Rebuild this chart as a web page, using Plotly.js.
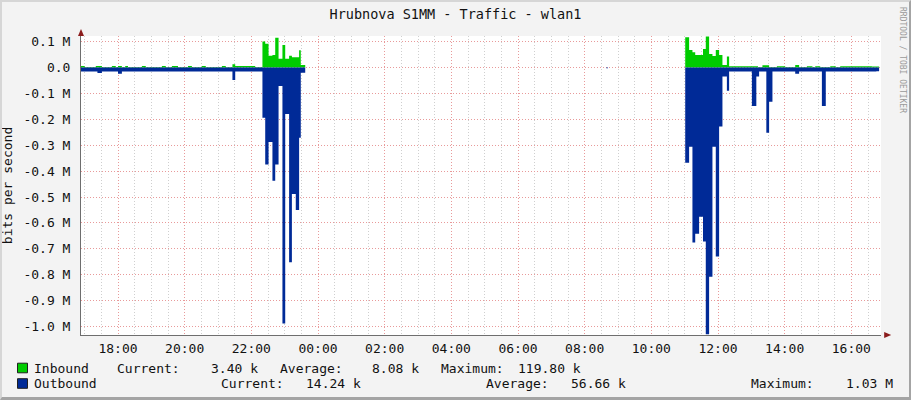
<!DOCTYPE html>
<html>
<head>
<meta charset="utf-8">
<script src="https://cdn.plot.ly/plotly-3.0.1.min.js"></script>
<style>
  html, body { margin: 0; padding: 0; background: #f3f3f3; }
  #wrap { position: relative; width: 911px; height: 400px; overflow: hidden; }
  #chart { width: 911px; height: 400px; }
  #frame { position: absolute; left: 0; top: 0; width: 907px; height: 395px;
           border-top: 2px solid #d6d6d6; border-left: 2px solid #d6d6d6;
           border-right: 2px solid #a4a4a4; border-bottom: 3px solid #a4a4a4;
           pointer-events: none; }
</style>
</head>
<body>
<div id="wrap"><div id="chart"></div><div id="frame"></div></div>
<script>
// ---- data ----
const chartTitle = 'Hrubnova S1MM - Traffic - wlan1';
const yTitle = 'bits per second';

// Inbound (plotted above zero), step values starting at each time; null = no data
const inTimes = ['16:53','17:00','17:20','17:31','17:49','17:56','18:00','18:07','18:13','18:18',
  '18:43','18:50','19:19','19:26','19:37','19:48','20:06','20:13','20:31','20:38',
  '21:07','21:14','21:26','21:31','22:07',
  '22:20','22:25','22:31','22:38','22:43','22:49','22:56','23:01','23:08','23:13','23:20','23:26','23:29','23:37','23:38',
  '11:01','11:08','11:14','11:19','11:26','11:33','11:38','11:44','11:50','11:56','12:02','12:08','12:16','12:20',
  '13:12','13:20','13:32','13:46','14:01','14:19','14:26','14:40','14:50','14:55','15:04','15:22','15:32','15:40',
  '16:37','16:50'];
const inValues = [6000,2000,6000,2000,6000,2000,6000,2000,6000,2000,
  6000,2000,6000,2000,6000,2000,6000,2000,6000,2000,
  6000,2000,13000,6000,2000,
  100000,92000,45000,48000,115000,34000,87000,34000,45000,40000,40000,67000,10000,10000,null,
  117000,68000,59000,48000,48000,71000,119800,52000,44000,68000,48000,10000,42000,5000,
  2000,9000,2000,5000,2000,10000,2000,5000,2000,5000,2000,5000,2000,5000,
  3400,3400];

// Outbound (plotted below zero)
const outTimes = ['16:53','17:23','17:31','18:00','18:07','21:26','21:31',
  '22:20','22:25','22:31','22:38','22:43','22:49','22:56','23:01','23:08','23:13','23:20','23:26','23:29','23:37','23:38',
  '08:39','08:42','08:43',
  '11:01','11:08','11:14','11:19','11:26','11:33','11:38','11:44','11:50','11:56','12:02','12:08','12:16','12:20',
  '13:01','13:09','13:14','13:27','13:32','13:38','14:19','14:26','15:07','15:14','16:45','16:50'];
const outValues = [-15000,-21000,-15000,-24000,-15000,-48000,-15000,
  -194000,-375000,-288000,-437000,-375000,-71000,-988000,-180000,-752000,-488000,-550000,-271000,-20000,-20000,null,
  -3000,-3000,null,
  -368000,-306000,-676000,-642000,-576000,-672000,-1030000,-808000,-306000,-730000,-228000,-35000,-90000,-15000,
  -149000,-35000,-15000,-252000,-132000,-15000,-24000,-15000,-149000,-15000,-14240,-14240];

const yTickVals = [100000,0,-100000,-200000,-300000,-400000,-500000,-600000,-700000,-800000,-900000,-1000000];
const yTickText = ['0.1 M','0.0','-0.1 M','-0.2 M','-0.3 M','-0.4 M','-0.5 M','-0.6 M','-0.7 M','-0.8 M','-0.9 M','-1.0 M'];

const legendRows = [
  {name:'Inbound',  color:'#00CC00', cur:'3.40 k',  avg:'8.08 k',  max:'119.80 k'},
  {name:'Outbound', color:'#002A97', cur:'14.24 k', avg:'56.66 k', max:'1.03 M'}
];

// ---- build ----
const DAY1 = '2024-05-14', DAY2 = '2024-05-15';
const toDate = hm => (hm >= '16:53' ? DAY1 : DAY2) + ' ' + hm;
const xStart = DAY1 + ' 16:53:24', xEnd = DAY2 + ' 16:53:24';

const MONO = 'DejaVu Sans Mono';
const L = 81, R = 881, T = 36, B = 335, W = 911, H = 400;
const px = x => (x - L) / (R - L);
const py = y => (B - y) / (B - T);

// split a series at null values so each data run is filled on its own
function runs(times, values) {
  const out = []; let cur = null;
  times.forEach((t, i) => {
    const v = values[i];
    if (v === null) { cur = null; return; }
    if (!cur) { cur = {x: [], y: []}; out.push(cur); }
    cur.x.push(toDate(t)); cur.y.push(v);
  });
  return out;
}

const traces = [];
[[inTimes, inValues, 'Inbound', '#00CC00'], [outTimes, outValues, 'Outbound', '#002A97']].forEach(([tt, vv, name, color]) => {
  runs(tt, vv).forEach((seg, k) => {
    traces.push({x: seg.x, y: seg.y, type:'scatter', mode:'lines', name: name, legendgroup: name, showlegend: k === 0,
      line:{shape:'hv', color: color, width:0}, fill:'tozeroy', fillcolor: color});
  });
});

const annotations = [
  {text:'RRDTOOL / TOBI OETIKER', xref:'paper', yref:'paper', x:px(902), y:py(60), textangle:90,
   showarrow:false, font:{family:MONO, size:8, color:'#9a9a9a'}, xanchor:'center', yanchor:'middle'}
];
const shapes = [
  {type:'path', xref:'paper', yref:'paper', xsizemode:'pixel', ysizemode:'pixel', xanchor:1.004, yanchor:0,
   path:'M0,-3 L7,0 L0,3 Z', fillcolor:'#8b1c1c', line:{width:0}},
  {type:'path', xref:'paper', yref:'paper', xsizemode:'pixel', ysizemode:'pixel', xanchor:0, yanchor:1,
   path:'M-3,0 L3,0 L0,7 Z', fillcolor:'#8b1c1c', line:{width:0}}
];
const rowY = [368, 383.5];
const colsX = [
  [{k:'Current:', x:116, a:'left'}, {k:'cur', x:259, a:'right'}, {k:'Average:', x:279, a:'left'}, {k:'avg', x:420, a:'right'}, {k:'Maximum:', x:440, a:'left'}, {k:'max', x:582, a:'right'}],
  [{k:'Current:', x:220, a:'left'}, {k:'cur', x:362, a:'right'}, {k:'Average:', x:485, a:'left'}, {k:'avg', x:627, a:'right'}, {k:'Maximum:', x:750, a:'left'}, {k:'max', x:894, a:'right'}]
];
legendRows.forEach((r, i) => {
  const y = rowY[i];
  shapes.push({type:'rect', xref:'paper', yref:'paper', x0:px(17.5), x1:px(27.5), y0:py(y+4.8), y1:py(y-4.8),
    fillcolor:r.color, line:{color:'#202020', width:1}});
  annotations.push({text:r.name, xref:'paper', yref:'paper', x:px(33), y:py(y), xanchor:'left', yanchor:'middle',
    showarrow:false, borderpad:0, font:{family:MONO, size:13, color:'#111'}});
  colsX[i].forEach(c => {
    const t = (c.k === 'cur' || c.k === 'avg' || c.k === 'max') ? r[c.k] : c.k;
    annotations.push({text:t, xref:'paper', yref:'paper', x:px(c.x), y:py(y), xanchor:c.a, yanchor:'middle',
      showarrow:false, borderpad:0, font:{family:MONO, size:13, color:'#111'}});
  });
});

const layout = {
  width: W, height: H,
  margin: {l: L, r: W - R, t: T, b: H - B, pad: 0},
  paper_bgcolor: '#f3f3f3', plot_bgcolor: '#ffffff',
  showlegend: false,
  title: {text: chartTitle, xref:'container', x:0.5, xanchor:'center', yref:'container', y:1 - 14/H, yanchor:'middle',
          font:{family:MONO, size:13.5, color:'#111'}},
  xaxis: {type:'date', range:[xStart, xEnd], tick0: DAY1 + ' 00:00', dtick: 7200000, tickformat:'%H:%M',
          showgrid:true, gridcolor:'#e89a9a', griddash:'1px,2px', gridwidth:1,
          minor:{dtick:1800000, tick0: DAY1 + ' 00:00', showgrid:true, gridcolor:'#cfcfcf', griddash:'1px,2px', gridwidth:1},
          showline:true, linecolor:'#6e6e6e', linewidth:1, zeroline:false, ticks:'', ticklabelstandoff:1,
          tickfont:{family:MONO, size:13, color:'#111'}, fixedrange:true},
  yaxis: {range:[-1032800, 121600], tickvals:yTickVals, ticktext:yTickText,
          showgrid:true, gridcolor:'#e89a9a', griddash:'1px,2px', gridwidth:1,
          showline:true, linecolor:'#6e6e6e', linewidth:1, zeroline:false, ticks:'', ticklabelstandoff:7,
          tickfont:{family:MONO, size:13, color:'#111'},
          title:{text:yTitle, standoff:12, font:{family:MONO, size:13, color:'#111'}}, fixedrange:true},
  shapes: shapes,
  annotations: annotations
};

Plotly.newPlot('chart', traces, layout, {staticPlot:true, displayModeBar:false});
</script>
</body>
</html>
